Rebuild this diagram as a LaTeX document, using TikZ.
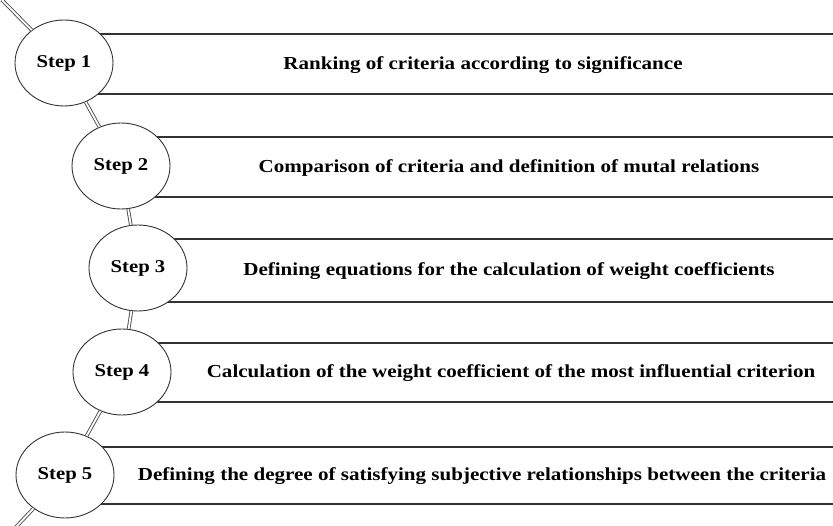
\documentclass[tikz,border=0pt]{standalone}
\usepackage{fontspec}
\setmainfont{Liberation Serif}[FakeStretch=1.15]
\usetikzlibrary{shapes.geometric,backgrounds}

\tikzset{
  stepcirc/.style={ellipse,draw=black!80,line width=0.9pt,fill=white,
    minimum width=98pt,minimum height=86pt,inner sep=0pt,
    font=\bfseries\fontsize{18}{20}\selectfont},
  steptext/.style={font=\bfseries\fontsize{18.3}{20}\selectfont},
  bandline/.style={draw=black!80,line width=1.4pt},
  link/.style={draw=black!70,double=white,double distance=1.8pt,line width=0.9pt}
}

\begin{document}
\begin{tikzpicture}[x=1pt,y=-1pt]
\useasboundingbox (0,0) rectangle (833,526);

% the five steps
\node[stepcirc] (s1) at (64,63) {Step 1};
\node[stepcirc] (s2) at (121,166) {Step 2};
\node[stepcirc] (s3) at (138,268) {Step 3};
\node[stepcirc] (s4) at (122,372) {Step 4};
\node[stepcirc] (s5) at (65,475) {Step 5};

\node[steptext] (t1) at (483,65) {Ranking of criteria according to significance};
\node[steptext] (t2) at (509,168) {Comparison of criteria and definition of mutal relations};
\node[steptext] (t3) at (509,271) {Defining equations for the calculation of weight coefficients};
\node[steptext] (t4) at (511,373) {Calculation of the weight coefficient of the most influential criterion};
\node[steptext] (t5) at (482,476) {Defining the degree of satisfying subjective relationships between the criteria};

\coordinate (in) at (2,0);
\coordinate (out) at (16,527);

\begin{scope}[on background layer]
\draw[bandline] (s1.center |- 0,34) -- (833,34);
\draw[bandline] (s1.center |- 0,94) -- (833,94);
\draw[bandline] (s2.center |- 0,137) -- (833,137);
\draw[bandline] (s2.center |- 0,197) -- (833,197);
\draw[bandline] (s3.center |- 0,239) -- (833,239);
\draw[bandline] (s3.center |- 0,302) -- (833,302);
\draw[bandline] (s4.center |- 0,343) -- (833,343);
\draw[bandline] (s4.center |- 0,402) -- (833,402);
\draw[bandline] (s5.center |- 0,447) -- (833,447);
\draw[bandline] (s5.center |- 0,504) -- (833,504);
\end{scope}

\draw[link] (in) -- (s1);
\draw[link] (s1) -- (s2);
\draw[link] (s2) -- (s3);
\draw[link] (s3) -- (s4);
\draw[link] (s4) -- (s5);
\draw[link] (s5) -- (out);
\end{tikzpicture}
\end{document}
